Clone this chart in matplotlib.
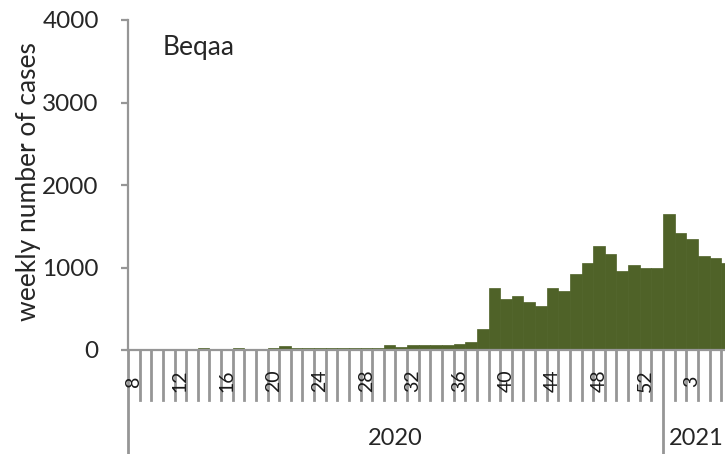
import matplotlib
matplotlib.use('Agg')
import matplotlib.pyplot as plt
import matplotlib.transforms as mtransforms

plt.rcParams['font.family'] = ['Lato', 'DejaVu Sans']

# weekly cases, Beqaa
WEEKS_2020 = list(range(8, 54))
CASES_2020 = [0, 0, 0, 5, 5, 10,
              30, 10, 10, 30, 10, 15, 20, 45,
              20, 20, 20, 20, 20, 25, 25, 25,
              60, 40, 55, 55, 60, 65, 75, 100,
              250, 750, 620, 650, 580, 530, 750, 710,
              920, 1060, 1260, 1160, 960, 1030, 1000, 990]
WEEKS_2021 = list(range(1, 7))
CASES_2021 = [1650, 1420, 1350, 1140, 1120, 1050]
YEARS = ['2020', '2021']
REGION = 'Beqaa'

BAR_COLOR = '#4f6228'
AXIS_COLOR = '#969696'
TEXT_COLOR = '#262626'

weeks = WEEKS_2020 + WEEKS_2021
cases = CASES_2020 + CASES_2021
n_2020 = len(WEEKS_2020)
x = list(range(len(weeks)))

fig = plt.figure(figsize=(7.25, 4.54), dpi=100)
ax = fig.add_axes([128 / 725, 104 / 454, 597 / 725, 330 / 454])

ax.bar(x, cases, width=1.0, color=BAR_COLOR, edgecolor=BAR_COLOR, linewidth=0.5)

ax.set_ylim(0, 4000)
ax.set_yticks([0, 1000, 2000, 3000, 4000])
ax.set_xlim(-0.5, -0.5 + 597 / 11.63)
ax.set_xticks([])

for side in ('top', 'right'):
    ax.spines[side].set_visible(False)
for side in ('left', 'bottom'):
    ax.spines[side].set_color(AXIS_COLOR)
    ax.spines[side].set_linewidth(1.6)

ax.tick_params(axis='y', direction='out', length=5, width=1.6, color=AXIS_COLOR,
               pad=16, labelsize=17.5, labelcolor=TEXT_COLOR)

trans = mtransforms.blended_transform_factory(ax.transData, ax.transAxes)

# category separators below the axis
for i in range(len(weeks) + 1):
    bottom = -0.315 if i in (0, n_2020) else -0.1515
    ax.plot([i - 0.5, i - 0.5], [0, bottom], transform=trans, color=AXIS_COLOR,
            lw=2.0, clip_on=False)

# week labels, every fourth category
for i, wk in enumerate(weeks):
    if i % 4 == 0:
        ax.text(i, -0.094, str(wk), transform=trans, rotation=90, ha='center',
                va='center', fontsize=14, color='#1a1a1a', clip_on=False)

# year labels
ax.text((n_2020 - 1) / 2, -0.267, YEARS[0], transform=trans, ha='center',
        va='center', fontsize=17, color=TEXT_COLOR, clip_on=False)
ax.text(n_2020 + (len(WEEKS_2021) - 1) / 2 - 0.15, -0.267, YEARS[1],
        transform=trans, ha='center', va='center', fontsize=17,
        color=TEXT_COLOR, clip_on=False)

fig.text(29 / 725, 1 - 182 / 454, 'weekly number of cases', rotation=90,
         ha='center', va='center', fontsize=19, color=TEXT_COLOR)
fig.text(163 / 725, 1 - 47 / 454, REGION, ha='left', va='center', fontsize=19,
         color=TEXT_COLOR)

fig.savefig('out.png', dpi=100)
